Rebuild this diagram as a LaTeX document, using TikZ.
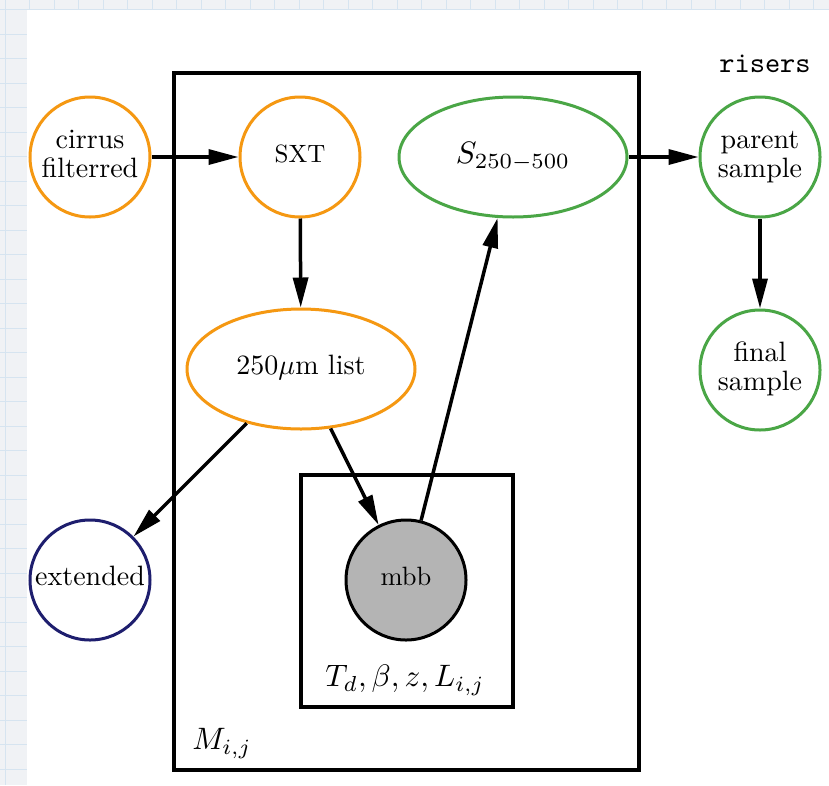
\documentclass[tikz,border=0pt]{standalone}
\usepackage{graphicx}
\usetikzlibrary{shapes.geometric,arrows.meta}

\definecolor{pgmorange}{RGB}{245,152,18}
\definecolor{pgmgreen}{RGB}{74,166,70}
\definecolor{pgmnavy}{RGB}{30,30,110}
\definecolor{paperbg}{RGB}{240,242,245}
\definecolor{paperline}{RGB}{214,228,240}
\definecolor{obsgray}{RGB}{180,180,180}

% node text: 10pt design size, enlarged as a whole, tight line spacing
\newcommand{\pgmtextat}[2]{\scalebox{#1}{\def\arraystretch{0.86}\begin{tabular}{@{}c@{}}#2\end{tabular}}}
\newcommand{\pgmtext}[1]{\pgmtextat{2.8}{#1}}
\newcommand{\pgmmath}[1]{\pgmtextat{3.1}{#1}}

\tikzset{
  var/.style={circle, draw, line width=3pt, minimum size=120pt, inner sep=0pt},
  wide/.style={ellipse, draw, line width=3pt, minimum width=228pt, minimum height=120pt, inner sep=0pt},
  plate/.style={draw, line width=3.5pt},
  edge/.style={line width=3.5pt, -{Triangle[length=30pt,width=15pt]}},
}

\begin{document}
\begin{tikzpicture}[x=1pt,y=-1pt]
  \useasboundingbox (0,0) rectangle (829,785);

  % graph-paper backdrop and the white sheet on top of it
  \fill[paperbg] (0,0) rectangle (829,785);
  \foreach \k in {0,...,33} {
    \draw[paperline, line width=1pt] (5+24.5*\k,0) -- (5+24.5*\k,785);
    \draw[paperline, line width=1pt] (0,9.5+24.5*\k) -- (829,9.5+24.5*\k);
  }
  \fill[white] (27,10) rectangle (829,785);

  % plates
  \draw[plate] (174,73) rectangle (639,770);
  \draw[plate] (301,475) rectangle (513,707);
  \node (mlabel) at (222,743) {\pgmmath{$M_{i,j}$}};
  \node (plabel) at (405,680) {\pgmmath{$T_d, \beta, z, L_{i,j}$}};

  % variables
  \node[var, draw=pgmorange] (cirrus) at (90,157) {\pgmtext{cirrus\\filterred}};
  \node[var, draw=pgmorange] (sxt) at (300,157) {\pgmtextat{2.5}{SXT}};
  \node[wide, draw=pgmgreen] (s) at (513,157) {\pgmmath{$S_{250-500}$}};
  \node[var, draw=pgmgreen] (parent) at (760,157) {\pgmtext{parent\\sample}};
  \node[var, draw=pgmgreen] (final) at (760,370) {\pgmtext{final\\sample}};
  \node[wide, draw=pgmorange] (list) at (301,369) {\pgmtext{250$\mu$m list}};
  \node[var, draw=pgmnavy] (ext) at (90,580) {\pgmtext{extended}};
  \node[var, draw=black, fill=obsgray] (mbb) at (406,580) {\pgmtextat{2.65}{mbb}};

  \node (risers) at (765,64) {\scalebox{2.9}{\ttfamily risers}};

  % edges
  \draw[edge] (cirrus) -- (sxt);
  \draw[edge] (sxt) -- (list);
  \draw[edge] (list) -- (ext);
  \draw[edge] (list) -- (mbb);
  \draw[edge] (mbb) -- (s);
  \draw[edge] (s) -- (parent);
  \draw[edge] (parent) -- (final);
\end{tikzpicture}
\end{document}
